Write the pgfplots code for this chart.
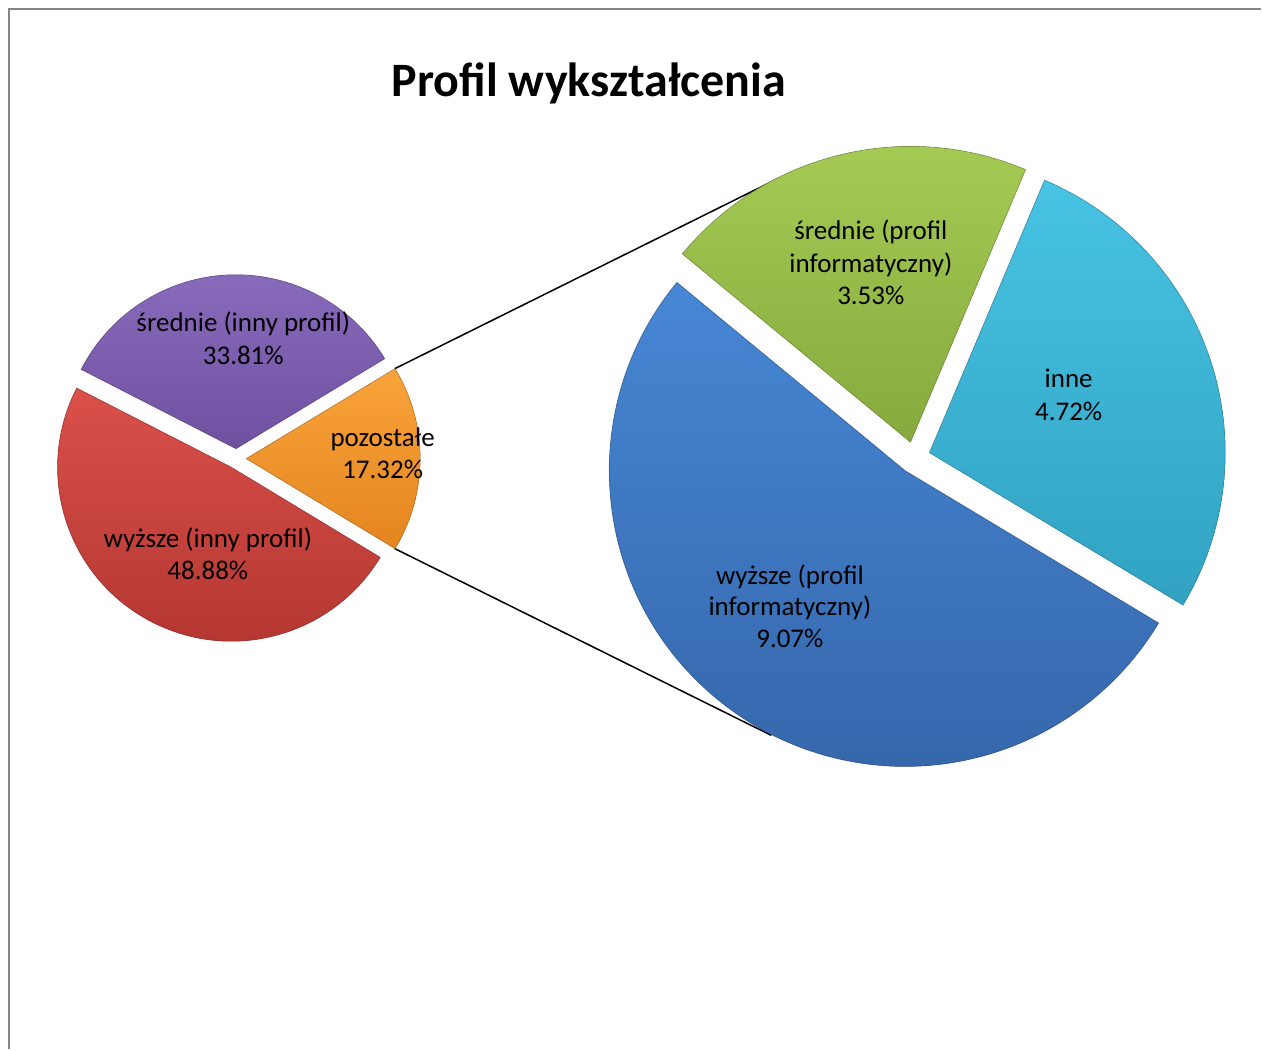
\documentclass[border=0pt]{standalone}
\usepackage{pgfplots}
\pgfplotsset{compat=1.18}
\usepackage{fontspec}
\setmainfont{Carlito}
\definecolor{purT}{HTML}{8C6EC0}
\definecolor{purB}{HTML}{6E4F9E}
\definecolor{redT}{HTML}{DA504B}
\definecolor{redB}{HTML}{B2352F}
\definecolor{oraT}{HTML}{F9A43A}
\definecolor{oraB}{HTML}{E4851F}
\definecolor{greT}{HTML}{A8CD56}
\definecolor{greB}{HTML}{84A83C}
\definecolor{cyaT}{HTML}{48C3E3}
\definecolor{cyaB}{HTML}{31A2C2}
\definecolor{bluT}{HTML}{4787D5}
\definecolor{bluB}{HTML}{3566AA}
\definecolor{frame}{HTML}{868686}
% #1 cx, #2 cy, #3 radius, #4 explosion, #5 start angle, #6 value, #7 total, #8 top colour, #9 bottom colour
\newcommand{\pieslice}[9]{%
  \pgfmathsetmacro\sa{#5}%
  \pgfmathsetmacro\ea{#5+#6/#7*360}%
  \pgfmathsetmacro\ma{(\sa+\ea)/2}%
  \fill[top color=#8, bottom color=#9, draw=#9!80!black, draw opacity=0.35, line width=1pt]
    (axis cs:#1,#2) ++(\ma:#4pt) -- ++(\sa:#3pt)
    arc[start angle=\sa, end angle=\ea, radius=#3pt] -- cycle;
}
\begin{document}
\begin{tikzpicture}
\begin{axis}[
  x=1pt, y=1pt, y dir=reverse,
  xmin=0, xmax=1262, ymin=0, ymax=1050,
  hide axis, clip=false, scale only axis,
]
\pgfplotsextra{
  \path (axis cs:0,0) rectangle (axis cs:1262,1050);
  \fill[white] (axis cs:0,0) rectangle (axis cs:1262,1050);
  \draw[frame, line width=2pt] (axis cs:9,1050) -- (axis cs:9,9) -- (axis cs:1262,9);
  % connector lines
  \draw[black, line width=1.5pt] (axis cs:395,369) -- (axis cs:780,178);
  \draw[black, line width=1.5pt] (axis cs:395,549) -- (axis cs:772,736);
  % primary pie: pozostałe 17.32, średnie (inny profil) 33.81, wyższe (inny profil) 48.88
  \pieslice{236.5}{459}{174}{10}{-17.32/100.01*180}{17.32}{100.01}{oraT}{oraB}
  \pieslice{236.5}{459}{174}{10}{17.32/100.01*180}{33.81}{100.01}{purT}{purB}
  \pieslice{236.5}{459}{174}{10}{(17.32/2+33.81)/100.01*360}{48.88}{100.01}{redT}{redB}
  % secondary pie: inne 4.72, średnie (profil informatyczny) 3.53, wyższe (profil informatyczny) 9.07
  \pieslice{915}{458}{296}{16}{-31}{4.72}{17.32}{cyaT}{cyaB}
  \pieslice{915}{458}{296}{16}{-31+4.72/17.32*360}{3.53}{17.32}{greT}{greB}
  \pieslice{915}{458}{296}{16}{-31+(4.72+3.53)/17.32*360}{9.07}{17.32}{bluT}{bluB}
}
% title
\node[anchor=base, font=\fontsize{48}{56}\selectfont\bfseries] at (axis cs:589.5,97) {Profil wykształcenia};
% labels
\begin{scope}[every node/.style={anchor=base, font=\fontsize{27}{32}\selectfont, inner sep=0pt}]
\node at (axis cs:243.5,332) {średnie (inny profil)};
\node at (axis cs:243.5,365) {33.81\%};
\node at (axis cs:383,447) {pozostałe};
\node at (axis cs:383,479) {17.32\%};
\node at (axis cs:208,548) {wyższe (inny profil)};
\node at (axis cs:208,580) {48.88\%};
\node at (axis cs:871.5,240) {średnie (profil};
\node at (axis cs:871.5,273) {informatyczny)};
\node at (axis cs:871.5,305) {3.53\%};
\node at (axis cs:1069.5,388) {inne};
\node at (axis cs:1069.5,421) {4.72\%};
\node at (axis cs:790.5,585) {wyższe (profil};
\node at (axis cs:790.5,616) {informatyczny)};
\node at (axis cs:790.5,648) {9.07\%};
\end{scope}
\end{axis}
\end{tikzpicture}
\end{document}
